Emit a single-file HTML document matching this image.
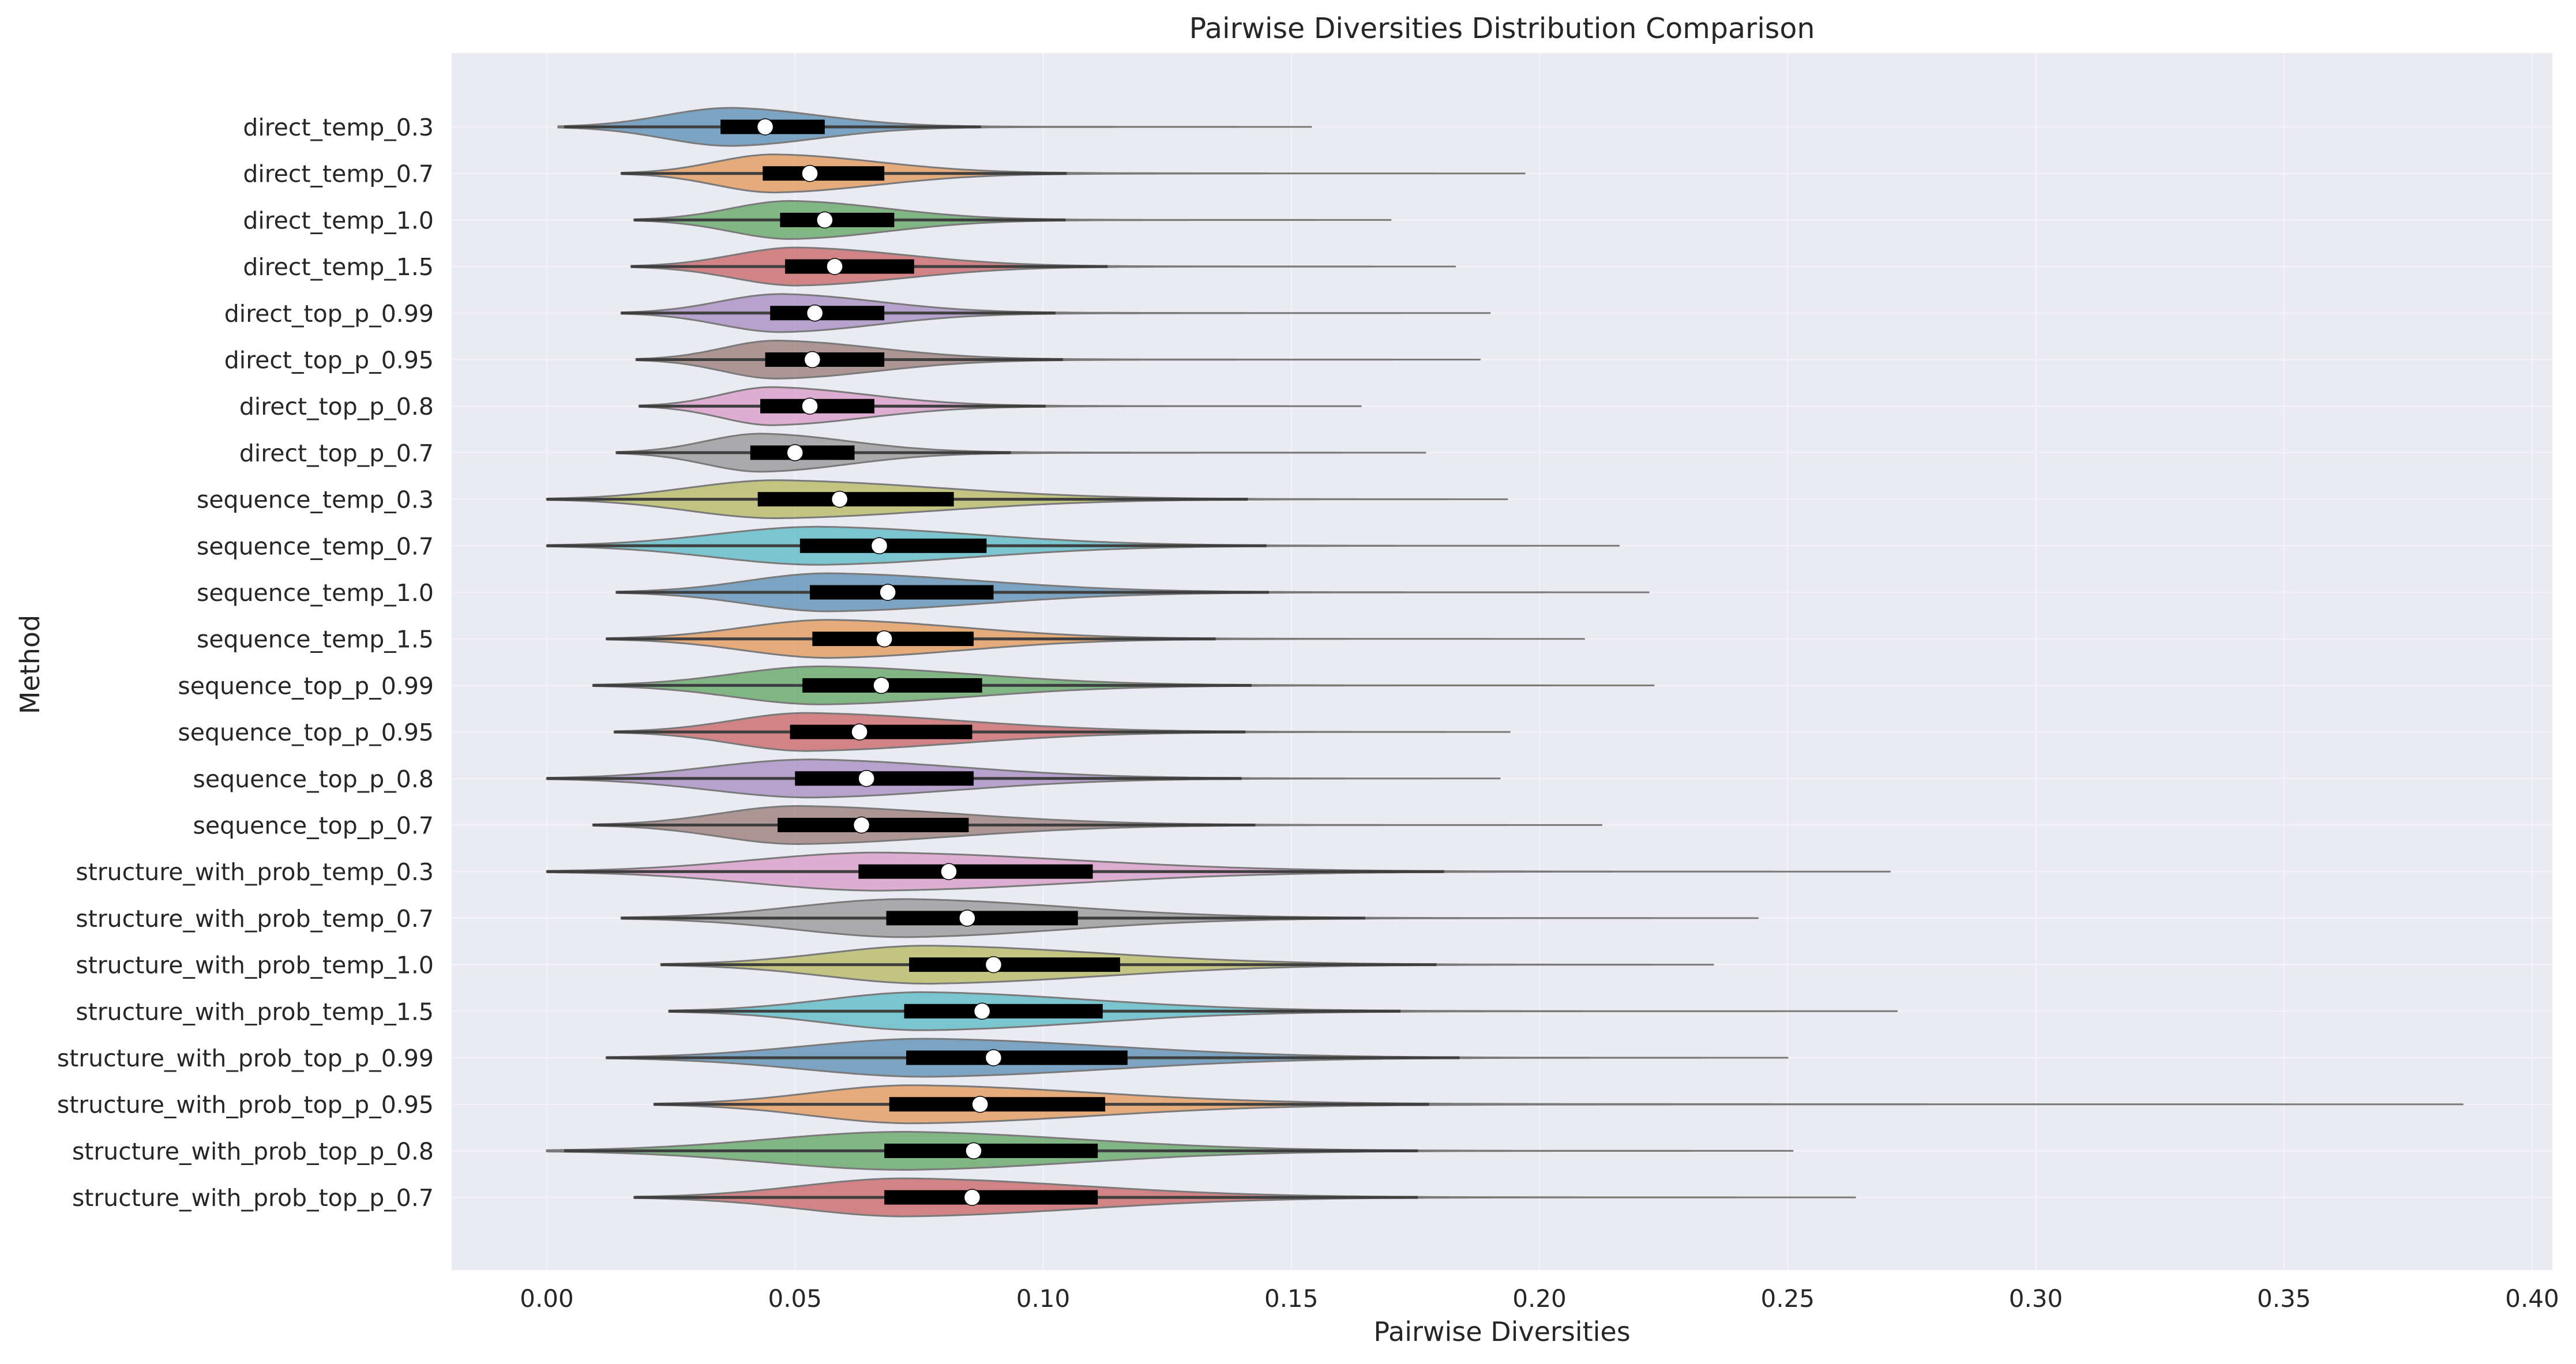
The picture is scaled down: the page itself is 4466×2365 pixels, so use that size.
<!DOCTYPE html>
<html><head><meta charset="utf-8">
<style>
html,body{margin:0;padding:0;background:#fff;}
svg{display:block;}
text{font-family:"DejaVu Sans","Liberation Sans",sans-serif;fill:#262626;}
</style></head>
<body>
<svg id="chart" width="4466" height="2365" viewBox="0 0 4466 2365" xmlns="http://www.w3.org/2000/svg">
<rect x="783" y="92" width="3642" height="2110" fill="#eaeaf2"/>
<g id="grid"></g>
<g id="violins"></g>
<g id="yticks"></g>
<g id="xticks"></g>
<text x="2604" y="66" font-size="49" text-anchor="middle">Pairwise Diversities Distribution Comparison</text>
<text x="2604" y="2325" font-size="46" text-anchor="middle">Pairwise Diversities</text>
<text x="0" y="0" font-size="46" text-anchor="middle" transform="translate(68,1152) rotate(-90)">Method</text>
</svg>
<script>
const categories = ["direct_temp_0.3","direct_temp_0.7","direct_temp_1.0","direct_temp_1.5","direct_top_p_0.99","direct_top_p_0.95","direct_top_p_0.8","direct_top_p_0.7","sequence_temp_0.3","sequence_temp_0.7","sequence_temp_1.0","sequence_temp_1.5","sequence_top_p_0.99","sequence_top_p_0.95","sequence_top_p_0.8","sequence_top_p_0.7","structure_with_prob_temp_0.3","structure_with_prob_temp_0.7","structure_with_prob_temp_1.0","structure_with_prob_temp_1.5","structure_with_prob_top_p_0.99","structure_with_prob_top_p_0.95","structure_with_prob_top_p_0.8","structure_with_prob_top_p_0.7"];
const mins   = [0.0023,0.015,0.0176,0.017,0.015,0.018,0.0186,0.014,0,0,0.014,0.012,0.0093,0.0136,0,0.0093,0,0.015,0.023,0.0246,0.012,0.0216,0,0.0176];
const q1s    = [0.035,0.0435,0.047,0.048,0.045,0.044,0.043,0.041,0.0425,0.051,0.053,0.0535,0.0515,0.049,0.050,0.0465,0.0628,0.0684,0.073,0.072,0.0724,0.069,0.068,0.068];
const medians= [0.044,0.053,0.056,0.058,0.054,0.0535,0.053,0.050,0.059,0.067,0.0687,0.068,0.0674,0.063,0.0644,0.0634,0.081,0.0847,0.090,0.0877,0.090,0.0873,0.086,0.0857];
const q3s    = [0.056,0.068,0.070,0.074,0.068,0.068,0.066,0.062,0.082,0.0886,0.090,0.086,0.0877,0.0857,0.086,0.085,0.110,0.107,0.1155,0.112,0.117,0.1125,0.111,0.111];
const maxs   = [0.154,0.197,0.170,0.183,0.190,0.188,0.164,0.177,0.1935,0.216,0.222,0.209,0.223,0.194,0.192,0.2125,0.2706,0.244,0.235,0.272,0.250,0.386,0.251,0.2636];
const xTicks = [0,0.05,0.10,0.15,0.20,0.25,0.30,0.35,0.40];
const xTickLabels = ["0.00","0.05","0.10","0.15","0.20","0.25","0.30","0.35","0.40"];
const palette = ["#3274a1","#e1812c","#3a923a","#c03d3e","#9372b2","#845b53","#d684bd","#7f7f7f","#a9aa35","#2eabb8"];

const NS="http://www.w3.org/2000/svg";
const X0=948, XS=8605, PL=783, PR=4425, PT=92, PB=2202;
const ROW0=220, ROWSTEP=80.7, HALF=33, BOXH=25;
function xs(v){return X0+v*XS;}
function ys(i){return ROW0+i*ROWSTEP;}
function mk(tag,attrs,parent){const e=document.createElementNS(NS,tag);for(const k in attrs)e.setAttribute(k,attrs[k]);parent.appendChild(e);return e;}

const grid=document.getElementById('grid');
xTicks.forEach((t,i)=>{
  const l=mk('line',{x1:xs(t),x2:xs(t),y1:PT,y2:PB,stroke:'#f3f3f7','stroke-width':2.5},grid);
  
  
  const tx=mk('text',{x:xs(t),y:2266,'font-size':42,'text-anchor':'middle'},document.getElementById('xticks'));
  tx.textContent=xTickLabels[i];
  
  
});
categories.forEach((c,i)=>{
  const l=mk('line',{x1:PL,x2:PR,y1:ys(i),y2:ys(i),stroke:'#f3f3f7','stroke-width':2.5},grid);
  
  
  const tx=mk('text',{x:752,y:ys(i)+15,'font-size':41,'text-anchor':'end'},document.getElementById('yticks'));
  tx.textContent=c;
  
  
});

const vg=document.getElementById('violins');
categories.forEach((c,i)=>{
  const mn=mins[i],q1=q1s[i],md=medians[i],q3=q3s[i],mx=maxs[i];
  const mode=q1+0.25*(md-q1);
  const sL=Math.max((mode-mn)/2.6,0.004), sR=Math.max((q3-mode)*0.95,0.004);
  const tau=(mx-mode)/5;
  function dens(x){
    let d;
    if(x<mode){d=Math.exp(-0.5*Math.pow((x-mode)/sL,2));}
    else{d=0.88*Math.exp(-0.5*Math.pow((x-mode)/sR,2))+0.12*Math.exp(-(x-mode)/tau);}
    return d;
  }
  const N=200, top=[], bot=[];
  for(let k=0;k<=N;k++){
    const x=mn+(mx-mn)*k/N, w=dens(x)*HALF;
    top.push(xs(x).toFixed(1)+','+(ys(i)-w).toFixed(1));
    bot.push(xs(x).toFixed(1)+','+(ys(i)+w).toFixed(1));
  }
  const g=mk('g',{},vg);
  
  
  const p=mk('path',{d:'M'+top.join(' L')+' L'+bot.reverse().join(' L')+' Z',fill:palette[i%10],'fill-opacity':0.6,stroke:'#7a7a7a','stroke-width':3,'stroke-linejoin':'round'},g);
  
  
  const iqr=q3-q1, wl=Math.max(mn,q1-1.5*iqr), wh=Math.min(mx,q3+1.5*iqr);
  const wl2=mk('line',{x1:xs(wl),x2:xs(wh),y1:ys(i),y2:ys(i),stroke:'#3f3f3f','stroke-width':5},g);
  
  
  const b=mk('rect',{x:xs(q1),y:ys(i)-BOXH/2,width:xs(q3)-xs(q1),height:BOXH,fill:'#000'},g);
  
  
  const m=mk('circle',{cx:xs(md),cy:ys(i),r:14,fill:'#fff',stroke:'#000','stroke-width':1.5},g);
  
  
});
</script>
</body></html>
